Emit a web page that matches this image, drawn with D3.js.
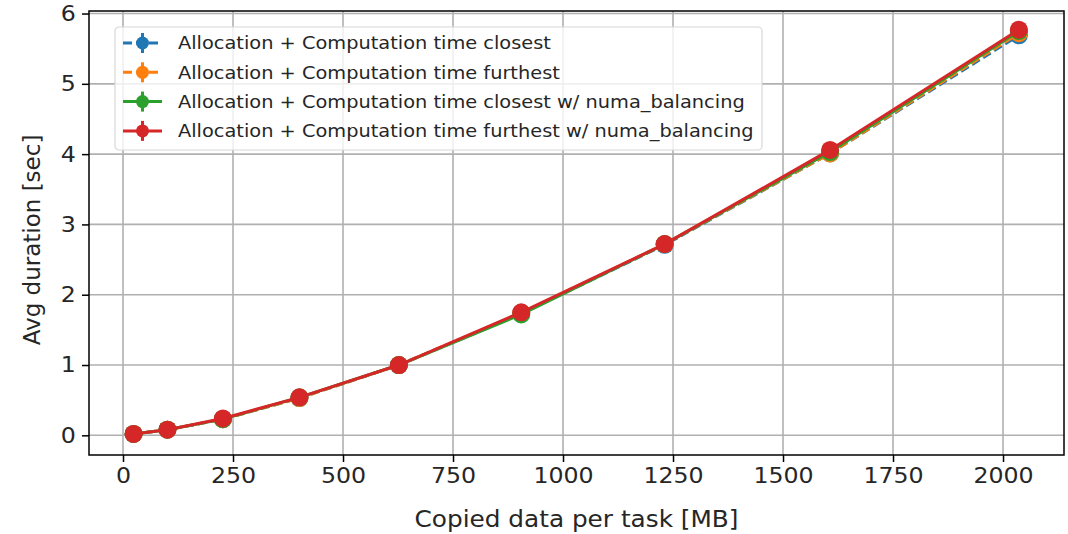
<!DOCTYPE html>
<html>
<head>
<meta charset="utf-8">
<script src="https://cdn.jsdelivr.net/npm/d3@7"></script>
<style>
  html, body { margin: 0; padding: 0; background: #fff; }
  svg text { font-family: "DejaVu Sans", sans-serif; fill: #262626; }
</style>
</head>
<body>
<svg id="chart" width="1068" height="534"></svg>
<script>
// Copied data per task (MB)
const sizes = [24, 101, 227, 401, 627, 905, 1231, 1607, 2036];

// Average allocation + computation duration (sec) per configuration
const closest    = [0.02, 0.08, 0.23, 0.53, 1.00, 1.73, 2.71, 4.01, 5.69];
const furthest   = [0.02, 0.08, 0.23, 0.53, 1.00, 1.74, 2.72, 4.01, 5.72];
const closestNB  = [0.02, 0.08, 0.23, 0.54, 1.00, 1.72, 2.72, 4.03, 5.75];
const furthestNB = [0.02, 0.08, 0.24, 0.54, 1.00, 1.75, 2.72, 4.06, 5.77];

const seriesNames = [
  "Allocation + Computation time closest",
  "Allocation + Computation time furthest",
  "Allocation + Computation time closest w/ numa_balancing",
  "Allocation + Computation time furthest w/ numa_balancing"
];
const seriesColors = ["#1f77b4", "#ff7f0e", "#2ca02c", "#d62728"];
const seriesDashed = [true, true, false, false];
const seriesValues = [closest, furthest, closestNB, furthestNB];

const xTicks = [0, 250, 500, 750, 1000, 1250, 1500, 1750, 2000];
const yTicks = [0, 1, 2, 3, 4, 5, 6];

const plot = { left: 89, right: 1064, top: 11, bottom: 455 };
const stretch = 1.1; // horizontal widening of the glyphs

const x = d3.scaleLinear().domain([-77.3, 2138.6]).range([plot.left, plot.right]);
const y = d3.scaleLinear().domain([-0.28, 6.036]).range([plot.bottom, plot.top]);

const svg = d3.select("#chart");

// grid
const grid = svg.append("g");
grid.selectAll("line.gx").data(xTicks).join("line")
  .attr("x1", d => x(d)).attr("x2", d => x(d))
  .attr("y1", plot.top).attr("y2", plot.bottom)
  .attr("stroke", "#b0b0b0").attr("stroke-width", 1.6);
grid.selectAll("line.gy").data(yTicks).join("line")
  .attr("y1", d => y(d)).attr("y2", d => y(d))
  .attr("x1", plot.left).attr("x2", plot.right)
  .attr("stroke", "#b0b0b0").attr("stroke-width", 1.6);

// series
const line = d3.line().x(d => x(d[0])).y(d => y(d[1]));
seriesValues.forEach((vals, i) => {
  const pts = sizes.map((s, j) => [s, vals[j]]);
  const g = svg.append("g");
  g.append("path")
    .attr("d", line(pts))
    .attr("fill", "none")
    .attr("stroke", seriesColors[i])
    .attr("stroke-width", 3)
    .attr("stroke-dasharray", seriesDashed[i] ? "9,4" : null);
  g.selectAll("circle").data(pts).join("circle")
    .attr("cx", d => x(d[0])).attr("cy", d => y(d[1]))
    .attr("r", 9)
    .attr("fill", seriesColors[i]);
});

// axes
const xAxis = d3.axisBottom(x).tickValues(xTicks).tickSize(7).tickPadding(6).tickFormat(d3.format("d"));
const yAxis = d3.axisLeft(y).tickValues(yTicks).tickSize(7).tickPadding(5).tickFormat(d3.format("d"));

const gx = svg.append("g").attr("transform", `translate(0,${plot.bottom})`).call(xAxis);
const gy = svg.append("g").attr("transform", `translate(${plot.left},0)`).call(yAxis);
[gx, gy].forEach(g => {
  g.select(".domain").remove();
  g.selectAll(".tick line").attr("stroke", "#000").attr("stroke-width", 1.5);
  g.selectAll(".tick text").attr("font-size", 21.5).attr("fill", "#262626")
    .attr("font-family", "DejaVu Sans, sans-serif")
    .attr("transform", `scale(${stretch},1)`);
});

// frame
svg.append("rect")
  .attr("x", plot.left).attr("y", plot.top)
  .attr("width", plot.right - plot.left).attr("height", plot.bottom - plot.top)
  .attr("fill", "none").attr("stroke", "#000").attr("stroke-width", 1.5);

// axis labels
const xLabelX = (plot.left + plot.right) / 2;
svg.append("text")
  .attr("transform", `translate(${xLabelX},527) scale(${stretch},1)`)
  .attr("text-anchor", "middle").attr("font-size", 22.5)
  .text("Copied data per task [MB]");
svg.append("text")
  .attr("transform", `translate(40,${(plot.top + plot.bottom) / 2 + 7}) rotate(-90)`)
  .attr("text-anchor", "middle").attr("font-size", 23)
  .text("Avg duration [sec]");

// legend
const lg = svg.append("g").attr("transform", "translate(115,27)");
lg.append("rect")
  .attr("width", 647).attr("height", 123).attr("rx", 4)
  .attr("fill", "#fff").attr("fill-opacity", 0.8)
  .attr("stroke", "#d8d8d8").attr("stroke-width", 1.2);
seriesNames.forEach((name, i) => {
  const cy = 16 + i * 29.3;
  lg.append("line")
    .attr("x1", 8).attr("x2", 47).attr("y1", cy).attr("y2", cy)
    .attr("stroke", seriesColors[i]).attr("stroke-width", 3)
    .attr("stroke-dasharray", seriesDashed[i] ? "9,4" : null);
  lg.append("line")
    .attr("x1", 27.5).attr("x2", 27.5).attr("y1", cy - 10).attr("y2", cy + 10)
    .attr("stroke", seriesColors[i]).attr("stroke-width", 3);
  lg.append("circle")
    .attr("cx", 27.5).attr("cy", cy).attr("r", 6.5)
    .attr("fill", seriesColors[i]);
  lg.append("text")
    .attr("transform", `translate(63,${cy}) scale(${stretch},1)`)
    .attr("dy", "0.36em")
    .attr("font-size", 17.6)
    .text(name);
});
</script>
</body>
</html>
